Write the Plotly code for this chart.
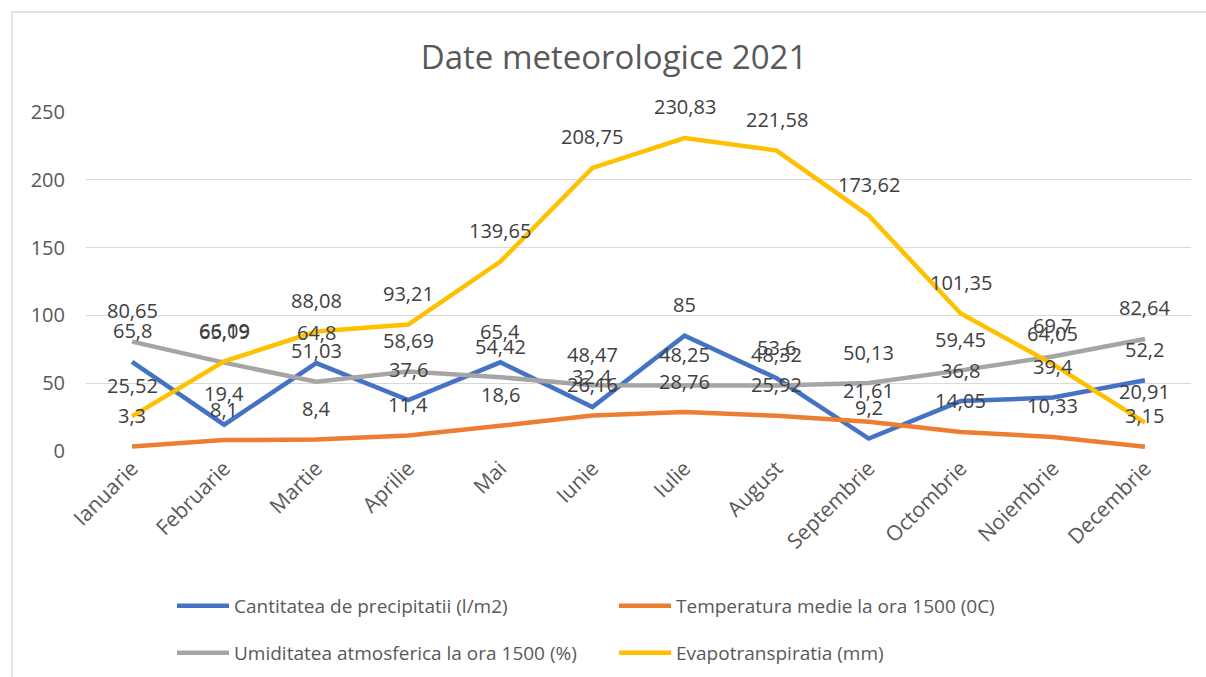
import plotly.graph_objects as go

months = ["Ianuarie", "Februarie", "Martie", "Aprilie", "Mai", "Iunie",
          "Iulie", "August", "Septembrie", "Octombrie", "Noiembrie", "Decembrie"]

precipitatii = [65.8, 19.4, 64.8, 37.6, 65.4, 32.4, 85, 53.6, 9.2, 36.8, 39.4, 52.2]
temperatura = [3.3, 8.1, 8.4, 11.4, 18.6, 26.16, 28.76, 25.92, 21.61, 14.05, 10.33, 3.15]
umiditate = [80.65, 65.19, 51.03, 58.69, 54.42, 48.47, 48.25, 48.32, 50.13, 59.45, 69.7, 82.64]
evapo = [25.52, 66.09, 88.08, 93.21, 139.65, 208.75, 230.83, 221.58, 173.62, 101.35, 64.05, 20.91]

series = [
    ("Cantitatea de precipitatii (l/m2)", precipitatii, "#4472C4", "legend"),
    ("Temperatura medie la ora 1500 (0C)", temperatura, "#ED7D31", "legend"),
    ("Umiditatea atmosferica la ora 1500 (%)", umiditate, "#A5A5A5", "legend2"),
    ("Evapotranspiratia (mm)", evapo, "#FFC000", "legend2"),
]

FONT = "Open Sans"
fig = go.Figure()
annotations = []
for name, vals, color, lg in series:
    fig.add_trace(go.Scatter(x=months, y=vals, name=name, mode="lines",
                             line=dict(color=color, width=4.5),
                             legend=lg))
    for m, v in zip(months, vals):
        annotations.append(dict(x=m, y=v, xref="x", yref="y",
                                text=f"{v:g}".replace(".", ","),
                                showarrow=False, yshift=31,
                                font=dict(family=FONT, size=20, color="#404040")))

legend_common = dict(orientation="h", xanchor="left", yanchor="middle",
                     xref="container", yref="container",
                     entrywidth=375, entrywidthmode="pixels", itemwidth=52,
                     font=dict(family=FONT, size=19, color="#595959"))

fig.update_layout(
    width=1206, height=677,
    margin=dict(l=86, r=15, t=112, b=226),
    paper_bgcolor="white", plot_bgcolor="white",
    title=dict(text="Date meteorologice 2021", x=614 / 1206, xanchor="center",
               y=1 - 57 / 677, yanchor="middle", yref="container",
               font=dict(family=FONT, size=33, color="#595959")),
    xaxis=dict(tickangle=-45, showgrid=False, showline=False, ticks="",
               automargin=False, range=[-0.5, len(months) - 0.5],
               tickfont=dict(family=FONT, size=21, color="#595959")),
    yaxis=dict(range=[0, 250], dtick=50, showgrid=True, gridcolor="#D9D9D9",
               gridwidth=1.3, zeroline=False, showline=False, ticks="",
               ticklabelstandoff=20, automargin=False,
               tickfont=dict(family=FONT, size=20, color="#595959")),
    legend=dict(x=172 / 1206, y=1 - 606 / 677, **legend_common),
    legend2=dict(x=172 / 1206, y=1 - 653 / 677, **legend_common),
    annotations=annotations,
    shapes=[dict(type="rect", xref="paper", yref="paper",
                 x0=(12 - 86) / 1105, x1=1.2, y0=-1.0, y1=(451 - 12) / 339,
                 line=dict(color="#D9D9D9", width=1.3), layer="below")],
    showlegend=True,
)

fig.write_html("out.html", config={"displayModeBar": False},
               post_script="document.body.style.margin='0';")
